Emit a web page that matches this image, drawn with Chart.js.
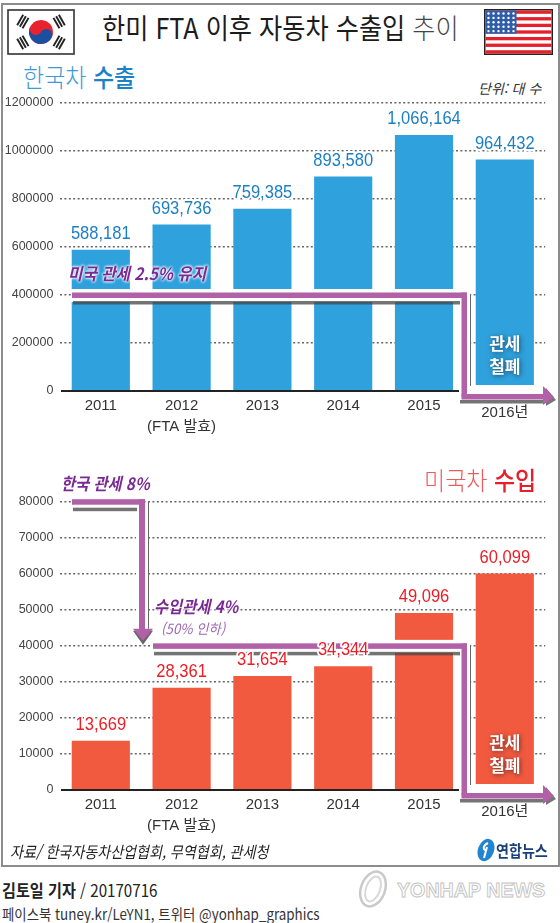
<!DOCTYPE html>
<html lang="ko">
<head>
<meta charset="utf-8">
<title>한미 FTA 이후 자동차 수출입 추이</title>
<script src="https://cdn.jsdelivr.net/npm/chart.js@4"></script>
<style>
  html, body { margin: 0; padding: 0; background: #fff; }
  body { position: relative; width: 560px; height: 923px; overflow: hidden; font-family: 'Noto Sans CJK KR', sans-serif; color: #222; }
  #frame { position: absolute; left: 1px; top: 3px; width: 555px; height: 860px; border: 2px solid #8c8c8c; }
  canvas { position: absolute; left: 0; }
  .t { position: absolute; white-space: nowrap; line-height: 1; transform-origin: left center; }
  .tariff { font-weight: 700; font-style: italic; color: #7b2a93; text-shadow: 0 0 3px #fff, 0 0 3px #fff, 0 0 3px #fff; }
  svg { position: absolute; }
</style>
</head>
<body>
<div id="frame"></div>

<svg style="left:7px;top:9px" width="68" height="46" viewBox="0 0 68 46">
  <rect x="1" y="1" width="66" height="44" fill="#fff" stroke="#333" stroke-width="1.6"/>
  <g transform="translate(34 23) rotate(30)">
    <circle r="12" fill="#e8232e"/>
    <path d="M-12 0 A12 12 0 0 0 12 0 A6 6 0 0 0 0 0 A6 6 0 0 1 -12 0Z" fill="#1b4fa0"/>
  </g>
  <g id="trigrams" fill="#222"></g>
</svg>

<svg id="usflag" style="left:484px;top:9px" width="69" height="46" viewBox="0 0 69 46"></svg>

<div class="t" style="left:102px;top:13px;font-size:28px;font-weight:400;color:#1c1c1c;transform:scaleX(.9)">한미 FTA 이후 자동차 수출입 <span style="font-weight:300;color:#444">추이</span></div>
<div class="t" style="left:23px;top:64px;font-size:25px;font-weight:300;color:#3b9ad8;transform:scaleX(.92)">한국차 <span style="font-weight:500;color:#1b82c6">수출</span></div>
<div class="t" style="left:478px;top:81px;font-size:14px;font-style:italic;color:#333">단위: 대 수</div>

<canvas id="exportChart" width="560" height="360" style="top:91px"></canvas>
<canvas id="importChart" width="560" height="359" style="top:491px"></canvas>

<div class="t tariff" style="left:68px;top:264px;font-size:17px;transform:scaleX(.92)">미국 관세 2.5% 유지</div>
<div class="t" style="left:424px;top:467px;font-size:25px;font-weight:300;color:#ee5a5e;transform:scaleX(.92)">미국차 <span style="font-weight:500;color:#e61f2a">수입</span></div>
<div class="t tariff" style="left:61px;top:474px;font-size:17px;transform:scaleX(.9)">한국 관세 8%</div>
<div class="t tariff" style="left:154px;top:597px;font-size:17px;transform:scaleX(.9)">수입관세 4%</div>
<div class="t" style="left:161px;top:621px;font-size:14px;font-style:italic;color:#9a68b2;transform:scaleX(.95)">(50% 인하)</div>

<div class="t" style="left:10px;top:843px;font-size:16px;font-style:italic;color:#222;transform:scaleX(.88)">자료/ 한국자동차산업협회, 무역협회, 관세청</div>
<svg style="left:475px;top:838px" width="22" height="24" viewBox="0 0 22 24">
  <ellipse cx="11" cy="12" rx="8" ry="11.5" transform="rotate(20 11 12)" fill="#2184d0"/>
  <path d="M13 5 C7 8 8 13 12 12 M12 9 L9 20" stroke="#fff" stroke-width="2" fill="none"/>
</svg>
<div class="t" style="left:496px;top:842px;font-size:16px;font-weight:700;color:#1a3f7a;transform:scaleX(.88)">연합뉴스</div>

<div class="t" style="left:2px;top:881px;font-size:17px;color:#222;transform:scaleX(.89)"><b>김토일 기자</b> / 20170716</div>
<div class="t" style="left:2px;top:906px;font-size:15px;color:#333;transform:scaleX(.893)">페이스북 tuney.kr/LeYN1, 트위터 @yonhap_graphics</div>
<svg style="left:355px;top:868px" width="36" height="42" viewBox="0 0 36 42">
  <ellipse cx="18" cy="21" rx="12" ry="18" transform="rotate(20 18 21)" fill="#fff" stroke="#c9c9c9" stroke-width="2.5"/>
  <ellipse cx="18" cy="21" rx="7" ry="13" transform="rotate(20 18 21)" fill="none" stroke="#d8d8d8" stroke-width="2"/>
</svg>
<div class="t" style="left:397px;top:879px;font-family:'Liberation Sans',sans-serif;font-size:21px;font-weight:700;color:#fff;-webkit-text-stroke:1px #c4c4c4;transform:scaleX(.936)">YONHAP NEWS</div>

<script>
const years = ['2011', ['2012', '(FTA 발효)'], '2013', '2014', '2015', '2016년'];
const exportValues = [588181, 693736, 759385, 893580, 1066164, 964432];
const importValues = [13669, 28361, 31654, 34344, 49096, 60099];
const exportTicks = [0, 200000, 400000, 600000, 800000, 1000000, 1200000];
const importTicks = [0, 10000, 20000, 30000, 40000, 50000, 60000, 70000, 80000];

const SANS = "'Liberation Sans', 'Noto Sans CJK KR', sans-serif";
const PURPLE = '#b061a8';
const SHADOW = 'rgba(70,70,70,.75)';

// flag parts are just markup, no need to type them all out
let trigramSvg = '';
[-30, 30, 150, 210].forEach((a) => {
  trigramSvg += `<g transform="translate(34 23) rotate(${a}) translate(-21 0)">`;
  [-4, -0.9, 2.2].forEach((b) => { trigramSvg += `<rect x="${b}" y="-6" width="1.9" height="12"/>`; });
  trigramSvg += '</g>';
});
document.getElementById('trigrams').innerHTML = trigramSvg;

let flagSvg = '<rect width="69" height="46" fill="#222"/><rect x="1.5" y="1.5" width="66" height="43" fill="#fff"/>';
for (let i = 0; i < 7; i++) flagSvg += `<rect x="1.5" y="${1.5 + i * 6.62}" width="66" height="3.31" fill="#e3202b"/>`;
flagSvg += '<rect x="1.5" y="1.5" width="31" height="23.2" fill="#2f5ea8"/>';
for (let r = 0; r < 5; r++) for (let c = 0; c < 6; c++) flagSvg += `<circle cx="${4.5 + c * 5}" cy="${4.5 + r * 4.4}" r="1.2" fill="#fff"/>`;
document.getElementById('usflag').innerHTML = flagSvg;

function poly(ctx, pts, color) {
  ctx.fillStyle = color;
  ctx.beginPath();
  pts.forEach((p, i) => (i ? ctx.lineTo(p[0], p[1]) : ctx.moveTo(p[0], p[1])));
  ctx.closePath();
  ctx.fill();
}

// the "tariff" line: runs along a level, turns down past 2015 and points at the 2016 bar
function drawTariffLine(chart, level, startX) {
  const { ctx, scales } = chart;
  const y = scales.y.getPixelForValue(level);
  const base = scales.y.getPixelForValue(0);
  const kneeX = 467;
  const bottom = base + 6;

  ctx.fillStyle = '#fff';
  ctx.fillRect(startX - 1, y - 6, kneeX - startX + 1, 13);
  ctx.fillRect(453, y - 6, 17, base - y + 6);
  ctx.fillRect(470, base - 6, 76, 9);

  ctx.fillStyle = SHADOW;
  ctx.fillRect(startX + 1, y + 6, kneeX - startX - 8, 3.5);
  ctx.fillRect(460, bottom + 3, 85, 3.5);
  poly(ctx, [[546, bottom - 9], [556, bottom + 3], [546, bottom + 9]], '#777');

  ctx.fillStyle = '#666';
  ctx.fillRect(470, y, 1, base - y - 5);

  ctx.fillStyle = PURPLE;
  ctx.fillRect(startX, y - 2.5, kneeX - startX, 5.5);
  ctx.fillRect(kneeX - 5.5, y - 2.5, 5.5, bottom - y + 2);
  ctx.fillRect(kneeX - 5.5, bottom - 3, 545 - kneeX + 5.5, 5.5);
  poly(ctx, [[543, bottom - 11], [554, bottom], [543, bottom + 8]], PURPLE);
}

function drawDropArrow(chart) {
  const { ctx, scales } = chart;
  const top = scales.y.getPixelForValue(80000);
  const end = scales.y.getPixelForValue(40000);
  ctx.fillStyle = '#fff';
  ctx.fillRect(136, top + 3, 12, end - top - 12);
  ctx.fillStyle = '#666';
  ctx.fillRect(148, top, 1, end - top - 17);
  ctx.fillStyle = SHADOW;
  ctx.fillRect(73, top + 6, 64, 3.5);
  ctx.fillStyle = PURPLE;
  ctx.fillRect(72, top - 2.5, 73, 5.5);
  ctx.fillRect(139, top - 2.5, 6, end - top - 10);
  poly(ctx, [[133, end - 15], [153, end - 15], [143, end - 1]], '#666');
  poly(ctx, [[133, end - 17], [153, end - 17], [143, end - 5]], PURPLE);
}

function axisLine(chart) {
  const { ctx, scales } = chart;
  const y = scales.y.getPixelForValue(0);
  ctx.fillStyle = '#222';
  ctx.fillRect(61, y - 1, 398, 2);
}

function whiteLabel(chart) {
  const { ctx, scales } = chart;
  const base = scales.y.getPixelForValue(0);
  const x = scales.x.getPixelForValue(5);
  ctx.save();
  ctx.font = "700 17px 'Noto Sans CJK KR', sans-serif";
  ctx.textAlign = 'center';
  ctx.textBaseline = 'middle';
  ctx.fillStyle = '#fff';
  ctx.shadowColor = 'rgba(0,0,0,.55)';
  ctx.shadowBlur = 5;
  ctx.shadowOffsetX = 1;
  ctx.shadowOffsetY = 1;
  ctx.fillText('관세', x, base - 47);
  ctx.fillText('철폐', x, base - 24);
  ctx.restore();
}

function makeOverlay(color, drawTariff) {
  return {
    id: 'overlay',
    afterDatasetsDraw(chart) {
      const { ctx, scales, data } = chart;
      const values = data.datasets[0].data;
      drawTariff(chart);
      axisLine(chart);
      whiteLabel(chart);

      ctx.save();
      ctx.textAlign = 'center';
      ctx.textBaseline = 'middle';
      // value labels sit on a white edge because a few of them cross the tariff line
      ctx.font = '19px ' + SANS;
      values.forEach((v, i) => {
        const text = v.toLocaleString('en-US');
        ctx.save();
        ctx.translate(scales.x.getPixelForValue(i), scales.y.getPixelForValue(v) - 16);
        ctx.scale(0.87, 1);
        ctx.strokeStyle = '#fff';
        ctx.lineWidth = 4;
        ctx.lineJoin = 'round';
        ctx.strokeText(text, 0, 0);
        ctx.fillStyle = color;
        ctx.fillText(text, 0, 0);
        ctx.restore();
      });
      // 2016 sits lower than the others, under the arrow
      ctx.font = '15px ' + SANS;
      ctx.fillStyle = '#333';
      ctx.fillText(years[5], scales.x.getPixelForValue(5), scales.y.getPixelForValue(0) + 22);
      ctx.restore();
    }
  };
}

function makeChart(id, values, yTicks, barColor, labelColor, padTop, drawTariff) {
  return new Chart(document.getElementById(id), {
    type: 'bar',
    data: {
      labels: years,
      datasets: [{ data: values, backgroundColor: barColor, borderWidth: 0, categoryPercentage: 1, barPercentage: 0.72 }]
    },
    options: {
      responsive: false,
      animation: false,
      layout: { padding: { top: padTop, right: 14.8, left: 0, bottom: 0 } },
      plugins: { legend: { display: false }, tooltip: { enabled: false } },
      scales: {
        x: {
          border: { display: false },
          grid: { display: false, drawTicks: false },
          afterFit: (s) => { s.height = 60; s.paddingLeft = 0; s.paddingRight = 0; },
          ticks: {
            color: '#333',
            padding: 4.5,
            maxRotation: 0,
            autoSkip: false,
            font: { family: SANS, size: 15, lineHeight: 1.4 },
            callback: function (v, i) { return i === 5 ? '' : this.getLabelForValue(v); }
          }
        },
        y: {
          min: yTicks[0],
          max: yTicks[yTicks.length - 1],
          border: { display: false, dash: [2, 2.4] },
          afterFit: (s) => { s.width = 60.4; s.paddingTop = 0; s.paddingBottom = 0; },
          afterBuildTicks: (s) => { s.ticks = yTicks.map((v) => ({ value: v })); },
          grid: {
            drawTicks: false,
            color: (c) => (c.tick && c.tick.value === 0 ? 'rgba(0,0,0,0)' : '#666'),
            lineWidth: 1.4
          },
          ticks: {
            color: '#444',
            padding: 7,
            font: { family: SANS, size: 12.5 },
            callback: (v) => String(v)
          }
        }
      }
    },
    plugins: [makeOverlay(labelColor, drawTariff)]
  });
}

makeChart('exportChart', exportValues, exportTicks, '#2fa1dc', '#1b7fc4', 12, (c) => drawTariffLine(c, 400000, 72));
makeChart('importChart', importValues, importTicks, '#f25a40', '#ee1c25', 10.7, (c) => {
  drawDropArrow(c);
  drawTariffLine(c, 40000, 153);
});
</script>
</body>
</html>
